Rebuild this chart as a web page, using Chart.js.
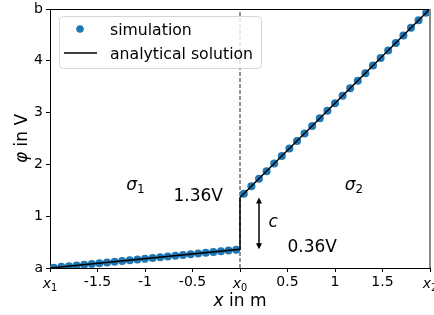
<!DOCTYPE html>
<html>
<head>
<meta charset="utf-8">
<script src="https://cdn.jsdelivr.net/npm/chart.js@4/dist/chart.umd.min.js"></script>
<style>
  html, body { margin: 0; padding: 0; background: #fff; }
  #wrap { width: 434px; height: 315px; }
</style>
</head>
<body>
<div id="wrap"><canvas id="chart" width="434" height="315"></canvas></div>
<script>
// simulation points
const simX = [-1.96, -1.88, -1.80, -1.72, -1.64, -1.56, -1.48, -1.40, -1.32, -1.24, -1.16, -1.08, -1.00,
  -0.92, -0.84, -0.76, -0.68, -0.60, -0.52, -0.44, -0.36, -0.28, -0.20, -0.12, -0.04,
  0.04, 0.12, 0.20, 0.28, 0.36, 0.44, 0.52, 0.60, 0.68, 0.76, 0.84, 0.92, 1.00,
  1.08, 1.16, 1.24, 1.32, 1.40, 1.48, 1.56, 1.64, 1.72, 1.80, 1.88, 1.96];
const simY = [0.007, 0.022, 0.036, 0.050, 0.065, 0.079, 0.094, 0.108, 0.122, 0.137, 0.151, 0.166, 0.180,
  0.194, 0.209, 0.223, 0.238, 0.252, 0.266, 0.281, 0.295, 0.310, 0.324, 0.338, 0.353,
  1.433, 1.578, 1.724, 1.870, 2.015, 2.161, 2.306, 2.452, 2.598, 2.743, 2.889, 3.034, 3.180,
  3.326, 3.471, 3.617, 3.762, 3.908, 4.054, 4.199, 4.345, 4.490, 4.636, 4.782, 4.927];

// analytical solution (piecewise linear with jump at x0)
const anaX = [-2, 0, 0, 2];
const anaY = [0, 0.36, 1.36, 5];

// interface line
const ifaceX = [0, 0];
const ifaceY = [0, 5];

const xTicks = [-2, -1.5, -1, -0.5, 0, 0.5, 1, 1.5, 2];
const yTicks = [0, 1, 2, 3, 4, 5];
const yTickText = { 0: 'a', 5: 'b' };
const xSymTicks = { '-2': '1', '0': '0', '2': '2' };

const jumpLow = 0.36, jumpHigh = 1.36, arrowX = 0.2;

const pts = (xs, ys) => xs.map((x, i) => ({ x: x, y: ys[i] }));
const FONT = "'DejaVu Sans', sans-serif";

function mathX(ctx, x, y, sub, size) {
  // italic x with a subscript, centred on x
  ctx.font = 'italic ' + size + 'px ' + FONT;
  const w1 = ctx.measureText('x').width;
  ctx.font = (size * 0.7) + 'px ' + FONT;
  const w2 = ctx.measureText(sub).width;
  const left = x - (w1 + w2) / 2;
  ctx.textAlign = 'left';
  ctx.font = 'italic ' + size + 'px ' + FONT;
  ctx.fillText('x', left, y);
  ctx.font = (size * 0.7) + 'px ' + FONT;
  ctx.fillText(sub, left + w1, y + size * 0.2);
}

function sigma(ctx, x, y, sub) {
  ctx.textAlign = 'left';
  ctx.font = 'italic 17px ' + FONT;
  const w1 = ctx.measureText('σ').width;
  ctx.font = '12px ' + FONT;
  const w2 = ctx.measureText(sub).width;
  const left = x - (w1 + w2) / 2;
  ctx.font = 'italic 17px ' + FONT;
  ctx.fillText('σ', left, y);
  ctx.font = '12px ' + FONT;
  ctx.fillText(sub, left + w1, y + 3);
}

const extras = {
  id: 'extras',
  afterDraw(chart) {
    const ctx = chart.ctx;
    const a = chart.chartArea;
    const xs = chart.scales.x, ys = chart.scales.y;
    ctx.save();
    // top and right frame
    ctx.strokeStyle = '#000';
    ctx.lineWidth = 1;
    ctx.beginPath();
    ctx.moveTo(a.left, a.top + 0.5);
    ctx.lineTo(a.right, a.top + 0.5);
    ctx.stroke();
    ctx.strokeStyle = '#888';
    ctx.lineWidth = 2;
    ctx.beginPath();
    ctx.moveTo(a.right, a.top);
    ctx.lineTo(a.right, a.bottom);
    ctx.stroke();

    ctx.fillStyle = '#000';
    ctx.textBaseline = 'alphabetic';
    // symbolic x tick labels
    Object.keys(xSymTicks).forEach(k => {
      mathX(ctx, xs.getPixelForValue(Number(k)), 288, xSymTicks[k], 14);
    });

    // axis titles
    ctx.textAlign = 'left';
    ctx.font = 'italic 17px ' + FONT;
    const wx = ctx.measureText('x').width;
    ctx.font = '17px ' + FONT;
    const wr = ctx.measureText(' in m').width;
    let lx = (a.left + a.right) / 2 - (wx + wr) / 2;
    ctx.font = 'italic 17px ' + FONT;
    ctx.fillText('x', lx, 306);
    ctx.font = '17px ' + FONT;
    ctx.fillText(' in m', lx + wx, 306);

    ctx.save();
    ctx.translate(21, (a.top + a.bottom) / 2);
    ctx.rotate(-Math.PI / 2);
    ctx.font = 'italic 17px ' + FONT;
    const wp = ctx.measureText('φ').width;
    ctx.font = '17px ' + FONT;
    const wv = ctx.measureText(' in V').width;
    lx = -(wp + wv) / 2;
    ctx.font = 'italic 17px ' + FONT;
    ctx.fillText('φ', lx, 6);
    ctx.font = '17px ' + FONT;
    ctx.fillText(' in V', lx + wp, 6);
    ctx.restore();

    // region labels and jump annotation
    sigma(ctx, xs.getPixelForValue(-1.1), ys.getPixelForValue(1.5), '1');
    sigma(ctx, xs.getPixelForValue(1.2), ys.getPixelForValue(1.5), '2');
    ctx.font = '17px ' + FONT;
    ctx.textAlign = 'center';
    ctx.fillText(jumpHigh.toFixed(2) + 'V', xs.getPixelForValue(-0.44), ys.getPixelForValue(1.3));
    ctx.fillText(jumpLow.toFixed(2) + 'V', xs.getPixelForValue(0.76), ys.getPixelForValue(0.3));
    ctx.font = 'italic 17px ' + FONT;
    ctx.fillText('c', xs.getPixelForValue(0.35), ys.getPixelForValue(0.8));

    const ax = xs.getPixelForValue(arrowX);
    const y1 = ys.getPixelForValue(jumpHigh), y0 = ys.getPixelForValue(jumpLow);
    ctx.strokeStyle = '#000';
    ctx.lineWidth = 1.5;
    ctx.beginPath();
    ctx.moveTo(ax, y1 + 3);
    ctx.lineTo(ax, y0 - 3);
    ctx.stroke();
    ctx.beginPath();
    ctx.moveTo(ax, y1); ctx.lineTo(ax - 3, y1 + 6); ctx.lineTo(ax + 3, y1 + 6); ctx.closePath();
    ctx.moveTo(ax, y0); ctx.lineTo(ax - 3, y0 - 6); ctx.lineTo(ax + 3, y0 - 6); ctx.closePath();
    ctx.fill();

    // legend
    const bx = 59.5, by = 16.5, bw = 202, bh = 52;
    ctx.fillStyle = 'rgba(255,255,255,0.8)';
    ctx.strokeStyle = '#d6d6d6';
    ctx.lineWidth = 1;
    ctx.beginPath();
    ctx.roundRect(bx, by, bw, bh, 4);
    ctx.fill();
    ctx.stroke();
    ctx.fillStyle = '#1f77b4';
    ctx.beginPath();
    ctx.arc(80, 29, 3.8, 0, Math.PI * 2);
    ctx.fill();
    ctx.strokeStyle = '#000';
    ctx.lineWidth = 1.5;
    ctx.beginPath();
    ctx.moveTo(64, 53);
    ctx.lineTo(97, 53);
    ctx.stroke();
    ctx.fillStyle = '#000';
    ctx.textAlign = 'left';
    ctx.font = '15.7px ' + FONT;
    ctx.fillText('simulation', 110, 35);
    ctx.fillText('analytical solution', 110, 59);
    ctx.restore();
  }
};

new Chart(document.getElementById('chart'), {
  type: 'scatter',
  data: {
    datasets: [
      {
        label: 'analytical solution',
        data: pts(anaX, anaY),
        showLine: true,
        borderColor: '#000',
        borderWidth: 1.5,
        pointRadius: 0,
        order: 0
      },
      {
        label: 'interface',
        data: pts(ifaceX, ifaceY),
        showLine: true,
        borderColor: '#222',
        borderWidth: 1,
        borderDash: [4, 2],
        pointRadius: 0,
        order: 2
      },
      {
        label: 'simulation',
        data: pts(simX, simY),
        backgroundColor: '#1f77b4',
        borderWidth: 0,
        pointRadius: 4,
        order: 1
      }
    ]
  },
  options: {
    responsive: false,
    animation: false,
    layout: { padding: { top: 9, right: 3, left: 0, bottom: 0 } },
    plugins: { legend: { display: false }, tooltip: { enabled: false } },
    scales: {
      x: {
        type: 'linear',
        min: -2, max: 2,
        afterBuildTicks: s => { s.ticks = xTicks.map(v => ({ value: v })); },
        afterFit: s => { s.height = 47; s.paddingLeft = 0; s.paddingRight = 0; },
        grid: { drawOnChartArea: false, drawTicks: true, tickLength: 4, color: '#000' },
        border: { color: '#000', width: 1 },
        ticks: {
          color: '#000',
          font: { family: FONT, size: 14 },
          padding: 2,
          maxRotation: 0,
          autoSkip: false,
          callback: v => (String(v) in xSymTicks ? '' : String(v))
        }
      },
      y: {
        type: 'linear',
        min: 0, max: 5,
        afterBuildTicks: s => { s.ticks = yTicks.map(v => ({ value: v })); },
        afterFit: s => { s.width = 50; s.paddingTop = 0; s.paddingBottom = 0; },
        grid: { drawOnChartArea: false, drawTicks: true, tickLength: 4, color: '#000' },
        border: { color: '#000', width: 1 },
        ticks: {
          color: '#000',
          font: { family: FONT, size: 14 },
          padding: 3,
          callback: v => (v in yTickText ? yTickText[v] : String(v))
        }
      }
    }
  },
  plugins: [extras]
});
</script>
</body>
</html>
